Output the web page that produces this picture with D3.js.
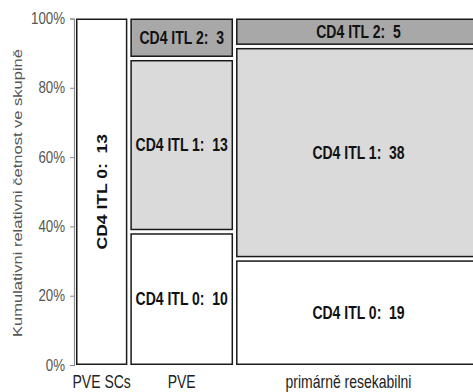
<!DOCTYPE html>
<html>
<head>
<meta charset="utf-8">
<script src="https://cdn.jsdelivr.net/npm/d3@7"></script>
<style>
  body { margin: 0; background: #fff; }
  text { font-family: "Liberation Sans", Arial, sans-serif; }
</style>
</head>
<body>
<div id="chart"></div>
<script>
// Data
var groups = ["PVE SCs", "PVE", "primárně resekabilni"];
var levels = ["CD4 ITL 0", "CD4 ITL 1", "CD4 ITL 2"];
var itl0 = [13, 10, 19];
var itl1 = [0, 13, 38];
var itl2 = [0, 3, 5];
var yTicks = [0, 0.2, 0.4, 0.6, 0.8, 1];

var fills = ["#ffffff", "#dadada", "#a8a8a8"];

var svgWidth = 473;
var svgHeight = 392;
// the text in the reference looks stretched vertically
var stretch = 1.25;

var svg = d3.select("#chart").append("svg")
    .attr("width", svgWidth).attr("height", svgHeight);

var counts = groups.map((g, i) => [itl0[i], itl1[i], itl2[i]]);
var totals = counts.map(c => d3.sum(c));

// x positions: widths proportional to group size, small gap between
var gap = 3;
var xStart = 76;
var pxPerCount = 3.95;
var x = d3.scaleLinear().domain([0, 1]).range([xStart, xStart + pxPerCount]);
var cum = 0;
var cols = totals.map(function(t, i) {
    var x0 = x(cum) + i * gap;
    cum += t;
    var x1 = x(cum) + i * gap;
    return {x0: x0, x1: x1};
});

var y = d3.scaleLinear().domain([0, 1]).range([365, 18.5]);

// Axis
var axisG = svg.append("g")
    .attr("transform", "translate(74,0)")
    .call(d3.axisLeft(y).tickValues(yTicks).tickFormat(d3.format(".0%")).tickSize(4));
axisG.select(".domain").attr("stroke", "#8a8a8a").attr("stroke-width", 1.2);
axisG.selectAll(".tick line").attr("stroke", "#8a8a8a");
axisG.selectAll(".tick text")
    .attr("fill", "#555")
    .attr("font-size", 13.3)
    .attr("x", -9)
    .attr("dy", "0.3em")
    .attr("transform", `scale(1,${stretch})`)
    .style("font-family", "'Liberation Sans', Arial, sans-serif");

svg.append("text")
    .attr("transform", `translate(17,193) rotate(-90) scale(${stretch},1)`)
    .attr("text-anchor", "middle")
    .attr("dominant-baseline", "central")
    .attr("font-size", 13.2)
    .attr("fill", "#555")
    .text("Kumulativni relativni četnost ve skupině");

// Tiles
var inset = 1.5;
groups.forEach(function(g, i) {
    var c = counts[i];
    var acc = 0;
    var nz = c.filter(v => v > 0).length;
    c.forEach(function(v, j) {
        if (v === 0) return;
        var p0 = acc / totals[i];
        acc += v;
        var p1 = acc / totals[i];
        var yb = y(p0) - (p0 > 0 ? inset : 0);
        var yt = y(p1) + (p1 < 1 ? inset : 0);
        var cx = cols[i];
        svg.append("rect")
            .attr("x", cx.x0 + 0.75)
            .attr("y", yt + 0.75)
            .attr("width", cx.x1 - cx.x0 - 1.5)
            .attr("height", yb - yt - 1.5)
            .attr("fill", fills[j])
            .attr("stroke", "#1a1a1a")
            .attr("stroke-width", 1.5);
        var tx = (cx.x0 + cx.x1) / 2;
        var ty = (yt + yb) / 2;
        var lab = svg.append("text")
            .attr("font-size", 14)
            .attr("font-weight", "bold")
            .attr("fill", "#111")
            .attr("text-anchor", "middle")
            .attr("dominant-baseline", "central")
            .style("white-space", "pre")
            .text(levels[j] + ":  " + v);
        if (nz === 1) {
            lab.attr("transform", `translate(${tx},${ty}) rotate(-90) scale(${stretch},1)`);
        } else {
            lab.attr("transform", `translate(${tx},${ty}) scale(1,${stretch})`);
        }
    });
    var lx = i === 2 ? (cols[i].x0 + cols[i].x1) / 2 - 10 : (cols[i].x0 + cols[i].x1) / 2;
    svg.append("text")
        .attr("transform", `translate(${lx},388) scale(1,${stretch})`)
        .attr("text-anchor", "middle")
        .attr("font-size", 14)
        .attr("fill", "#222")
        .text(g);
});
</script>
</body>
</html>
